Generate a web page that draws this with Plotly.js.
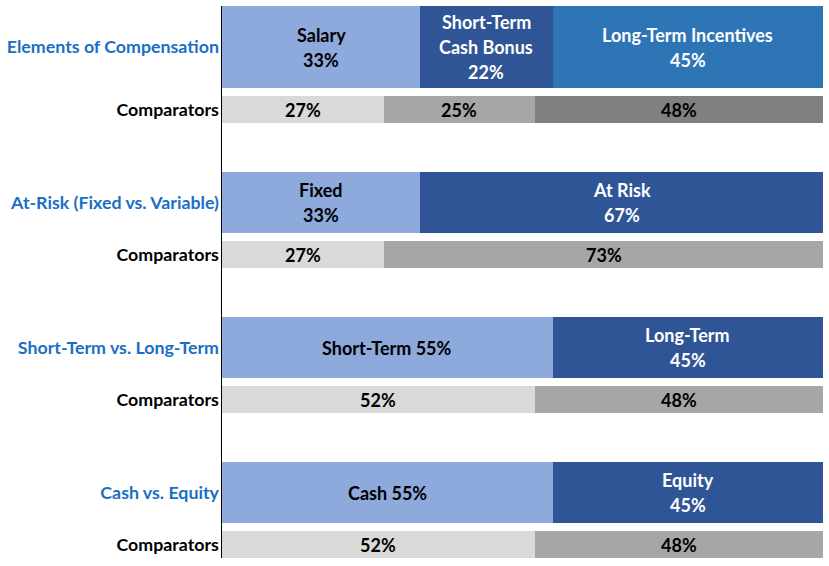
<!DOCTYPE html>
<html>
<head>
<meta charset="utf-8">
<script src="https://cdn.plot.ly/plotly-3.0.1.min.js"></script>
<style>html,body{margin:0;padding:0;background:#fff;}#chart{width:829px;height:566px;}</style>
</head>
<body>
<div id="chart"></div>
<script>
// ---------- DATA ----------
const rowLabels = ["Elements of Compensation", "Comparators", "At-Risk (Fixed vs. Variable)", "Comparators",
                   "Short-Term vs. Long-Term", "Comparators", "Cash vs. Equity", "Comparators"];
const isGroupRow = [true, false, true, false, true, false, true, false];
const seg1Values = [33, 27, 33, 27, 55, 52, 55, 52];
const seg2Values = [22, 25, 67, 73, 45, 48, 45, 48];
const seg3Values = [45, 48, 0, 0, 0, 0, 0, 0];
const seg1Names = ["Salary", "", "Fixed", "", "Short-Term", "", "Cash", ""];
const seg2Names = ["Short-Term<br>Cash Bonus", "", "At Risk", "", "Long-Term", "", "Equity", ""];
const seg3Names = ["Long-Term Incentives", "", "", "", "", "", "", ""];
// single-line label layout ("Short-Term 55%") vs. stacked
const seg1Inline = [false, false, false, false, true, false, true, false];

// ---------- STYLE / LAYOUT ----------
const FONT = "Lato, 'Open Sans', sans-serif";
const mainColors = ["#8EA9DB", "#2F5597", "#2E75B6"];
const compColors = ["#D9D9D9", "#A6A6A6", "#808080"];
const mainTextColors = ["#000000", "#FFFFFF", "#FFFFFF"];
const groupLabelColor = "#1A6FC4";
const groupPitch = 145, mainCenterBase = 57.5, compCenterBase = 109.5;
const mainWidth = 61, compWidth = 27;
const firstMainExtra = 21; // first main bar extends upward

const centers = [], widths = [];
rowLabels.forEach((_, i) => {
  const g = Math.floor(i / 2);
  if (isGroupRow[i]) {
    let c = mainCenterBase + g * groupPitch, w = mainWidth;
    if (g === 0) { c -= firstMainExtra / 2; w += firstMainExtra; }
    centers.push(c); widths.push(w);
  } else {
    centers.push(compCenterBase + g * groupPitch); widths.push(compWidth);
  }
});

const segValues = [seg1Values, seg2Values, seg3Values];
const segNames = [seg1Names, seg2Names, seg3Names];

const traces = segValues.map((vals, s) => ({
  type: "bar",
  orientation: "h",
  x: vals,
  y: centers,
  width: widths,
  marker: { color: vals.map((_, i) => isGroupRow[i] ? mainColors[s] : compColors[s]), line: { width: 0 } },
  hoverinfo: "x",
  showlegend: false
}));

const annotations = [];
const LINE = 25;
rowLabels.forEach((_, i) => {
  let start = 0;
  segValues.forEach((vals, s) => {
    const v = vals[i];
    if (!v) return;
    const mid = start + v / 2;
    start += v;
    let lines;
    if (isGroupRow[i]) {
      const name = segNames[s][i];
      if (s === 0 && seg1Inline[i]) lines = [name + " " + v + "%"];
      else lines = name.split("<br>").concat([v + "%"]);
    } else {
      lines = [v + "%"];
    }
    const color = isGroupRow[i] ? mainTextColors[s] : "#000000";
    lines.forEach((t, j) => {
      annotations.push({
        x: mid, y: centers[i], xref: "x", yref: "y",
        text: "<b>" + t + "</b>",
        showarrow: false,
        yshift: -((j - (lines.length - 1) / 2) * LINE),
        font: { family: FONT, size: 18, color: color },
        xanchor: "center", yanchor: "middle"
      });
    });
  });
});

const ticktext = rowLabels.map((t, i) =>
  isGroupRow[i] ? '<span style="color:' + groupLabelColor + '">' + t + '</span>' : t);

const layout = {
  width: 829, height: 566,
  margin: { l: 222, r: 6, t: 6, b: 8, pad: 0 },
  paper_bgcolor: "#FFFFFF", plot_bgcolor: "#FFFFFF",
  barmode: "stack",
  bargap: 0,
  font: { family: FONT, size: 18, color: "#000000" },
  xaxis: { range: [0, 100], visible: false, fixedrange: true },
  yaxis: {
    range: [558, 6],
    tickvals: centers,
    ticktext: ticktext,
    tickfont: { family: FONT, size: 17.8, color: "#000000", weight: "bold" },
    showline: true, linecolor: "#000000", linewidth: 1.5,
    showgrid: false, zeroline: false, ticks: "", ticklen: 0,
    ticklabelstandoff: -2,
    fixedrange: true
  },
  annotations: annotations
};

Plotly.newPlot("chart", traces, layout, { displayModeBar: false, staticPlot: true });
</script>
</body>
</html>
